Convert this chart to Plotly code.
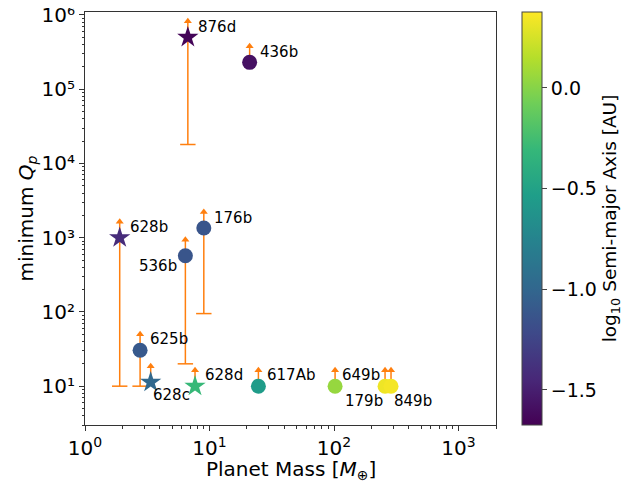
import plotly.graph_objects as go
import numpy as np

# ---- data ----
names = ["876d", "436b", "628b", "176b", "536b", "625b", "628c", "628d", "617Ab", "649b", "179b", "849b"]
mass = [6.7, 21.0, 1.9, 9.0, 6.4, 2.77, 3.37, 7.65, 24.7, 102.0, 257.0, 287.0]
qp_min = [5.0e5, 2.3e5, 1.0e3, 1.35e3, 5.7e2, 30.5, 11.3, 10.0, 10.0, 10.0, 10.0, 10.0]
qp_lower = [1.8e4, None, 10.0, 95.0, 20.0, 10.0, None, None, None, None, None, None]
log_a = [-1.65, -1.58, -1.42, -1.13, -1.13, -1.10, -0.98, -0.30, -0.55, 0.05, 0.33, 0.35]
is_star = [True, False, True, False, False, False, True, True, False, False, False, False]

# label placement (x shift, y shift in px, anchor)
lab_dx = [8, 8, 8, 8, -6, 8, 0, 8, 7, 5, 0, 1]
lab_dy = [10, 10, 11, 10, -10, 11, -13, 11, 11, 11, -15, -15]
lab_anchor = ["left", "left", "left", "left", "right", "left", "left", "left", "left", "left", "right", "left"]

cb_ticks = [0.0, -0.5, -1.0, -1.5]
x_ticks = [1, 10, 100, 1000]
x_tick_labels = ["10<sup>0</sup>", "10<sup>1</sup>", "10<sup>2</sup>", "10<sup>3</sup>"]
y_ticks = [1e1, 1e2, 1e3, 1e4, 1e5, 1e6]
y_tick_labels = ["10¹", "10²", "10³", "10⁴", "10⁵", "10⁶"]

ORANGE = "#ff7f0e"
ARROW_FACTOR = 10 ** (16 / 74.2)
CMIN, CMAX = -1.674, 0.377
FONT = "DejaVu Sans"

fig = go.Figure()

# error bar shafts
for m, q, lo in zip(mass, qp_min, qp_lower):
    bottom = lo if lo is not None else q
    fig.add_trace(go.Scatter(x=[m, m], y=[bottom, q * ARROW_FACTOR], mode="lines",
                             line=dict(color=ORANGE, width=1.5), hoverinfo="skip", showlegend=False))
# caps
cap_x = [m for m, lo in zip(mass, qp_lower) if lo is not None]
cap_y = [lo for lo in qp_lower if lo is not None]
fig.add_trace(go.Scatter(x=cap_x, y=cap_y, mode="markers",
                         marker=dict(symbol="line-ew", size=11, line=dict(color=ORANGE, width=1.5)),
                         hoverinfo="skip", showlegend=False))
# arrow heads
fig.add_trace(go.Scatter(x=mass, y=[q * ARROW_FACTOR for q in qp_min], mode="markers",
                         marker=dict(symbol="triangle-up", size=7, color=ORANGE, line=dict(width=0)),
                         hoverinfo="skip", showlegend=False))

# points
for star in (False, True):
    idx = [i for i, s in enumerate(is_star) if s == star]
    fig.add_trace(go.Scatter(
        x=[mass[i] for i in idx], y=[qp_min[i] for i in idx], mode="markers",
        text=[names[i] for i in idx],
        marker=dict(symbol="star" if star else "circle", size=16 if star else 15,
                    color=[log_a[i] for i in idx], colorscale="Viridis", cmin=CMIN, cmax=CMAX,
                    line=dict(width=0),
                    showscale=not star,
                    colorbar=dict(
                        x=1.063, xanchor="left", y=0.5, yanchor="middle", len=1.0, lenmode="fraction",
                        thickness=20, outlinewidth=1, outlinecolor="#444", xpad=0, ypad=0,
                        tickvals=cb_ticks, tickformat=".1f", ticks="outside", ticklen=5,
                        tickfont=dict(family=FONT, size=19, color="black"),
                        title=dict(text="log<sub>10</sub> Semi-major Axis [AU]", side="right",
                                   font=dict(family=FONT, size=18.5, color="black")),
                    )),
        showlegend=False))

for i, n in enumerate(names):
    fig.add_annotation(x=np.log10(mass[i]), y=np.log10(qp_min[i]), xref="x", yref="y",
                       text=n, showarrow=False, xanchor=lab_anchor[i], yanchor="middle",
                       xshift=lab_dx[i], yshift=lab_dy[i],
                       font=dict(family=FONT, size=15, color="black"))

# axis titles
fig.add_annotation(x=0.5, y=0, xref="paper", yref="paper", yshift=-45, showarrow=False,
                   xanchor="center", yanchor="middle",
                   text="Planet Mass [<i>M</i><sub>⊕</sub>]", font=dict(family=FONT, size=20, color="black"))
fig.add_annotation(x=0, y=0.5, xref="paper", yref="paper", xshift=-59, showarrow=False,
                   xanchor="center", yanchor="middle", textangle=-90,
                   text="minimum <i>Q</i><sub><i>p</i></sub>", font=dict(family=FONT, size=20, color="black"))

axis_common = dict(type="log", showgrid=False, zeroline=False, showline=True, linecolor="#333",
                   linewidth=1, mirror=True, ticks="outside", ticklen=5, tickcolor="#333",
                   automargin=False, ticklabeloverflow="allow",
                   tickfont=dict(family=FONT, size=20, color="black"),
                   minor=dict(ticks="outside", ticklen=2.5, tickcolor="#333", dtick="D1", showgrid=False))

fig.update_xaxes(**axis_common, range=[0, np.log10(2000)], tickvals=x_ticks, ticktext=x_tick_labels)
fig.update_yaxes(**axis_common, range=[np.log10(3), 6.04], tickvals=y_ticks, ticktext=y_tick_labels)

# the page body adds an 8px offset; margins compensate so the plot box lands where the reference has it
fig.update_layout(width=629, height=482, margin=dict(l=77, r=141, t=4, b=65, autoexpand=False),
                  plot_bgcolor="white", paper_bgcolor="white",
                  font=dict(family=FONT, color="black"))

fig.write_html("out.html")
